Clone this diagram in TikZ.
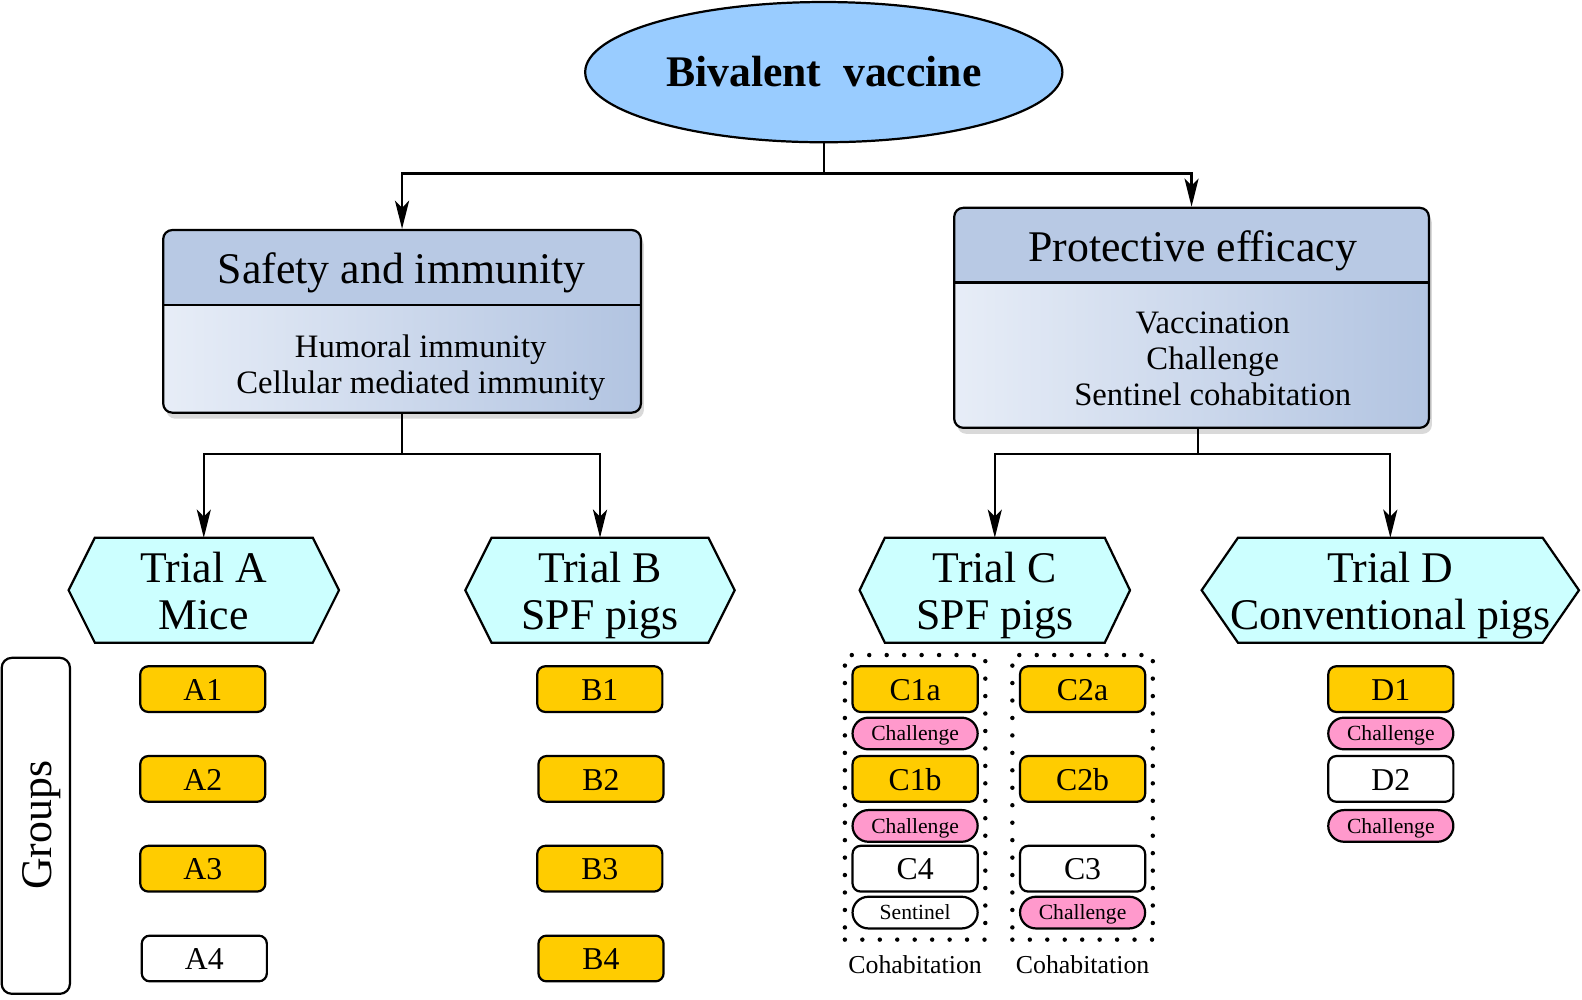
\documentclass[tikz,border=0pt]{standalone}
\usepackage{fontspec}
\setmainfont{Liberation Serif}
\usetikzlibrary{shapes.geometric,arrows.meta,shadows,fit}
\definecolor{bvblue}{HTML}{99CCFF}
\definecolor{hexcyan}{HTML}{CCFFFF}
\definecolor{goldc}{HTML}{FFCC00}
\definecolor{pinkc}{HTML}{FF99CC}
\definecolor{hdr}{HTML}{B8C9E4}
\definecolor{gradl}{HTML}{E7EDF7}
\definecolor{gradr}{HTML}{B2C4E1}
\newcommand\fsz[2]{\fontsize{#1}{#2}\selectfont}
\newcommand\drawhex[2]{\draw[hexstyle] (#1.west) -- ([xshift=#2]#1.north west) -- ([xshift=-#2]#1.north east) -- (#1.east) -- ([xshift=-#2]#1.south east) -- ([xshift=#2]#1.south west) -- cycle;}
\begin{document}
\begin{tikzpicture}[x=1pt,y=-1pt,
  conn/.style={line width=2.2pt},
  arr/.style={conn,-{Stealth[length=28pt,width=14pt,inset=7pt]}},
  bigbox/.style={line width=2.2pt, rounded corners=9pt, inner sep=0pt,
    drop shadow={shadow xshift=3pt, shadow yshift=-6pt, opacity=0.3},
    path picture={
      \fill[hdr, sharp corners] (path picture bounding box.north west) rectangle ([yshift=-74pt]path picture bounding box.north east);
      \shade[left color=gradl, right color=gradr, sharp corners] ([yshift=-74pt]path picture bounding box.north west) rectangle (path picture bounding box.south east);
      \draw[line width=2.2pt, sharp corners] ([yshift=-74pt]path picture bounding box.north west) -- ([yshift=-74pt]path picture bounding box.north east);
    },
    postaction={draw, line width=2.2pt}},
  titletext/.style={anchor=base, font=\fsz{43.4}{48}},
  bodytext/.style={anchor=base, font=\fsz{32.4}{36}},
  hexnode/.style={inner sep=0pt, outer sep=0pt, minimum height=104pt},
  hexstyle/.style={draw, line width=2.2pt, fill=hexcyan, line join=miter},
  gbox/.style={draw, line width=2.2pt, rounded corners=8pt, minimum width=124pt, minimum height=45.3pt, inner sep=0pt, font=\fsz{31.5}{36}, text height=22pt, text depth=0pt},
  gold/.style={gbox, fill=goldc},
  wbox/.style={gbox, fill=white},
  pill/.style={draw, line width=2.2pt, rounded corners=15.7pt, minimum width=124pt, minimum height=31.4pt, inner sep=0pt, font=\fsz{21.4}{26}, text height=14.5pt, text depth=0pt},
  pinkpill/.style={pill, fill=pinkc},
  wpill/.style={pill, fill=white},
  dotbox/.style={draw, line width=4.4pt, line cap=round, dash pattern=on 0pt off 17.3pt},
  cohab/.style={anchor=base, font=\fsz{25.6}{30}}
]
\useasboundingbox (0,0) rectangle (1568,991);

% top ellipse
\node[ellipse, draw, line width=2.2pt, fill=bvblue, minimum width=473pt, minimum height=139pt, inner sep=0pt,
      font=\fsz{43.3}{48}\bfseries, text height=28pt, text depth=0pt] (bv) at (816.5,71.5) {Bivalent\ \ vaccine};

% big boxes
\node[bigbox, minimum width=473.5pt, minimum height=181pt] (safety) at (398.5,318.5) {};
\node[titletext] (safetyT) at (398,280.5) {Safety and immunity};
\node[bodytext] (safetyB1) at (417,354) {Humoral immunity};
\node[bodytext] (safetyB2) at (417,390) {Cellular mediated immunity};

\node[bigbox, minimum width=470.5pt, minimum height=218pt] (prot) at (1181,315) {};
\node[titletext] (protT) at (1182,259.5) {Protective efficacy};
\node[bodytext] (protB1) at (1202,330.5) {Vaccination};
\node[bodytext] (protB2) at (1202,366) {Challenge};
\node[bodytext] (protB3) at (1202,402) {Sentinel cohabitation};

% trials
\node[hexnode, minimum width=268pt] (tA) at (202,585) {};
\node[hexnode, minimum width=267pt] (tB) at (594.7,585) {};
\node[hexnode, minimum width=268pt] (tC) at (986,585) {};
\node[hexnode, minimum width=374pt] (tD) at (1378,585) {};
\drawhex{tA}{26pt}
\drawhex{tB}{26pt}
\drawhex{tC}{25pt}
\drawhex{tD}{36pt}
\node[titletext] (tA1) at (202,577) {Trial A};
\node[titletext] (tA2) at (202,624) {Mice};
\node[titletext] (tB1) at (594.7,577) {Trial B};
\node[titletext] (tB2) at (594.7,624) {SPF pigs};
\node[titletext] (tC1) at (986,577) {Trial C};
\node[titletext] (tC2) at (986,624) {SPF pigs};
\node[titletext] (tD1) at (1378,577) {Trial D};
\node[titletext] (tD2) at (1378,624) {Conventional pigs};

% connectors
\coordinate (j1) at (816.5,172);
\draw[conn] (bv.south) -- (j1);
\draw[arr] (j1) -| (safety.north);
\draw[arr] (j1) -| (prot.north);
\coordinate (j2) at (398.5,450);
\draw[conn] (safety.south) -- (j2);
\draw[arr] (j2) -| (tA.north);
\draw[arr] (j2) -| (tB.north);
\coordinate (j3) at (1187,450);
\draw[conn] (j3 |- prot.south) -- (j3);
\draw[arr] (j3) -| (tC.north);
\draw[arr] (j3) -| (tD.north);

% groups
\node[draw, line width=2.2pt, rounded corners=10pt, minimum width=67.7pt, minimum height=333pt, inner sep=0pt] (grp) at (35.5,818.5) {};
\node[rotate=90, anchor=base, font=\fsz{43.4}{48}] (grpT) at (51,818) {Groups};

% A
\node[gold] (A1) at (201,683) {A1};
\node[gold] (A2) at (201,772) {A2};
\node[gold] (A3) at (201,861) {A3};
\node[wbox] (A4) at (202.5,950) {A4};
% B
\node[gold] (B1) at (594.5,683) {B1};
\node[gold] (B2) at (595.7,772) {B2};
\node[gold] (B3) at (594.5,861) {B3};
\node[gold] (B4) at (595.7,950) {B4};
% C column 1
\node[gold] (C1a) at (907,683) {C1a};
\node[pinkpill] (C1aCh) at (907,727) {Challenge};
\node[gold] (C1b) at (907,772) {C1b};
\node[pinkpill] (C1bCh) at (907,818.6) {Challenge};
\node[wbox] (C4) at (907,861) {C4};
\node[wpill] (C4S) at (907,904.5) {Sentinel};
% C column 2
\node[gold] (C2a) at (1073,683) {C2a};
\node[gold] (C2b) at (1073,772) {C2b};
\node[wbox] (C3) at (1073,861) {C3};
\node[pinkpill] (C3Ch) at (1073,904.5) {Challenge};
% cohabitation frames
\node[dotbox, fit=(C1a)(C4S), inner xsep=6.5pt, inner ysep=10pt] (cohab1) {};
\node[dotbox, fit=(C2a)(C3Ch), inner xsep=6.5pt, inner ysep=10pt] (cohab2) {};
\node[cohab] (cohab1T) at (907,964.5) {Cohabitation};
\node[cohab] (cohab2T) at (1073,964.5) {Cohabitation};
% D
\node[gold] (D1) at (1378.5,683) {D1};
\node[pinkpill] (D1Ch) at (1378.5,727) {Challenge};
\node[wbox] (D2) at (1378.5,772) {D2};
\node[pinkpill] (D2Ch) at (1378.5,818.6) {Challenge};
\end{tikzpicture}
\end{document}
